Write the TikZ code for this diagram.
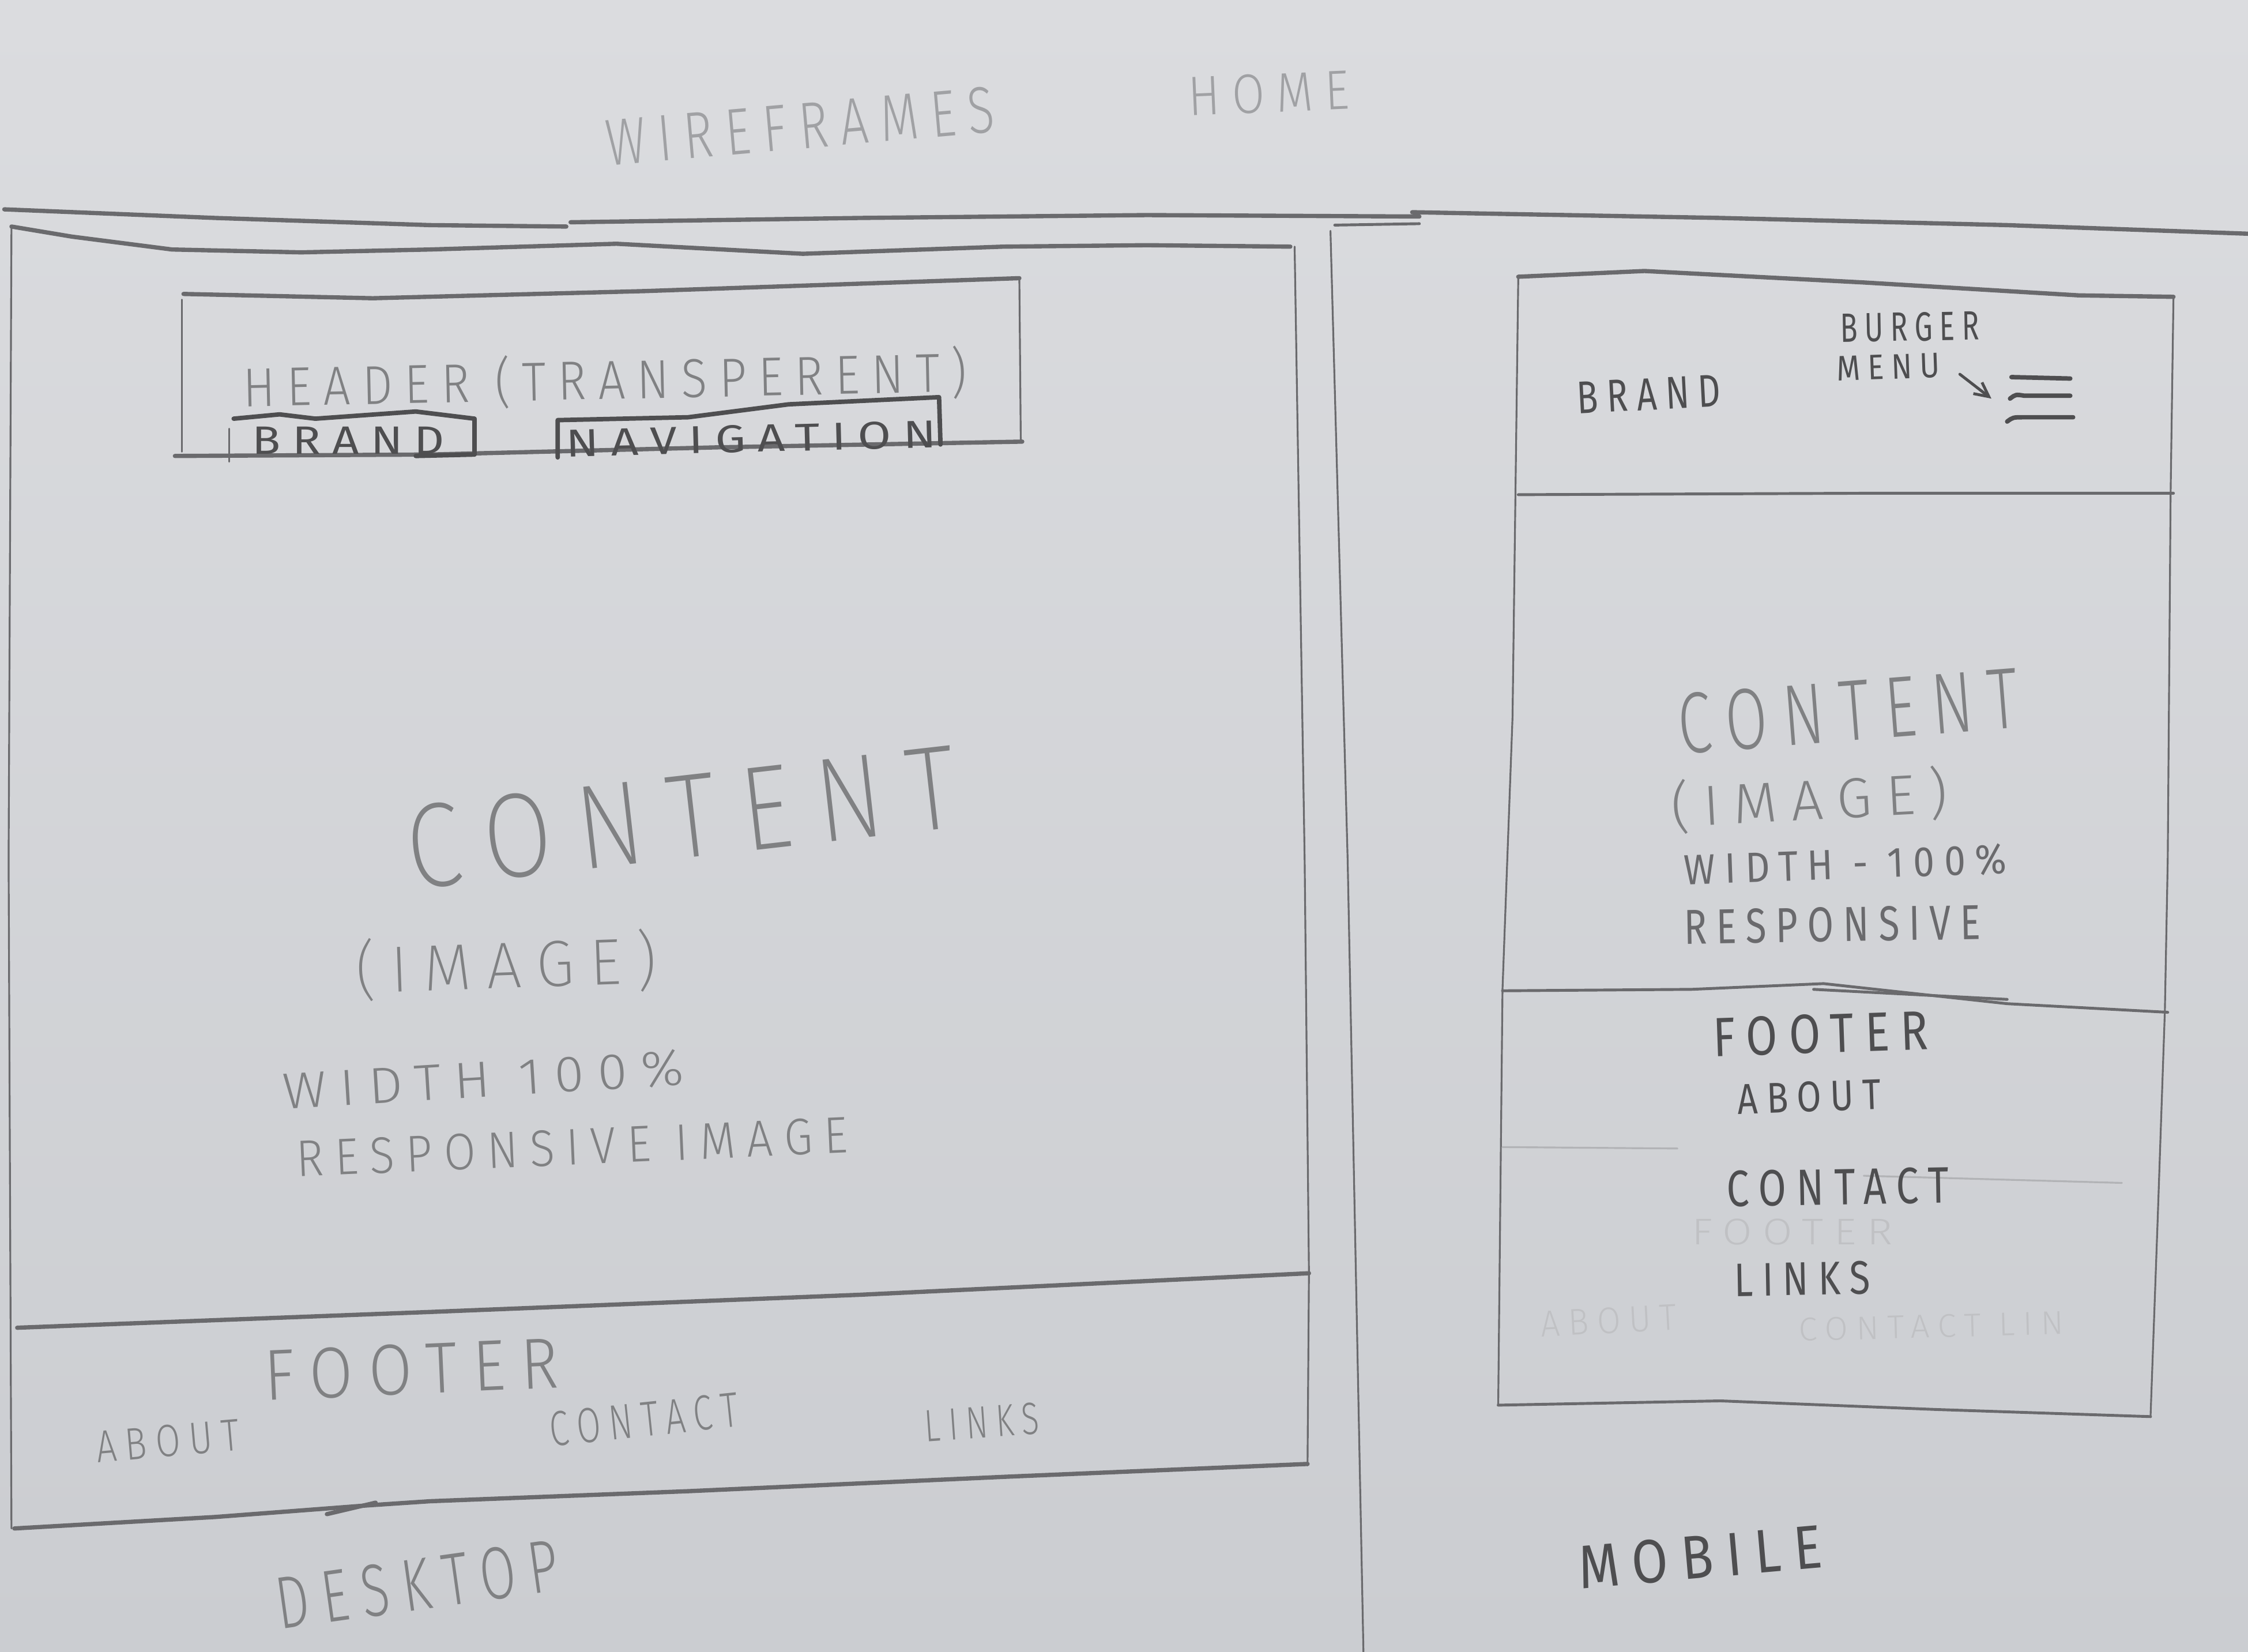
\documentclass[tikz,border=0pt]{standalone}
\usepackage{fontspec}
\usepackage{graphicx}
\usetikzlibrary{arrows.meta}
% hand-lettering faces
\newfontfamily\handrg{Fira Sans}[LetterSpace=25]
\newfontfamily\handlt{Fira Sans}[UprightFont=* Light,LetterSpace=25]
\newfontfamily\handxl{Fira Sans}[UprightFont=* ExtraLight,LetterSpace=25]
\newlength\upx
\setlength\upx{0.02487cm}
% text squeezed into a given width and cap height (in drawing units)
\newcommand\fit[4][\handrg]{\resizebox{#2\upx}{#3\upx}{#1#4}}
\definecolor{paperT}{RGB}{219,220,223}
\definecolor{paperB}{RGB}{203,205,209}
\definecolor{leaddk}{RGB}{78,78,80}
\definecolor{leadmd}{RGB}{106,106,109}
\definecolor{leadlt}{RGB}{128,129,131}
\definecolor{leadfaint}{RGB}{160,161,164}
\definecolor{ghost}{RGB}{192,193,196}
\tikzset{
  txt/.style={inner sep=0pt,outer sep=0pt,anchor=center},
  heavy/.style={draw=leadmd,line width=2.1pt,line cap=round,line join=round},
  medium/.style={draw=leadmd,line width=1.4pt,line cap=round,line join=round},
  fine/.style={draw=leadmd,line width=0.9pt,line cap=round,line join=round},
  dark/.style={draw=leaddk,line width=2.2pt,line cap=round,line join=round},
  faintline/.style={draw=leadfaint!70!paperT,line width=0.9pt,line cap=round},
}
\begin{document}
\begin{tikzpicture}[x=0.02487cm,y=-0.02487cm]
% sheet of paper
\path[use as bounding box,top color=paperT,bottom color=paperB] (0,0) rectangle (1568,1152);

% ---------- headings ----------
\node[txt,text=leadfaint,rotate=5] (tWire) at (558,88) {\fit[\handlt]{272}{32}{WIREFRAMES}};
\node[txt,text=leadfaint,rotate=2.5] (tHome) at (885,65) {\fit[\handlt]{112}{27}{HOME}};

% ---------- page frame lines ----------
\draw[heavy] (3,146) -- (150,152) -- (300,157) -- (395,158);
\draw[heavy] (398,155) -- (600,152) -- (800,150) -- (990,151);
\draw[heavy] (985,148) -- (1200,152) -- (1400,157) -- (1568,163);
\draw[medium] (931,157) -- (990,156);
\draw[fine] (928,161) -- (940,600) -- (951,1152);

% ---------- desktop frame ----------
\draw[heavy] (8,158) -- (50,165) -- (120,174) -- (210,176) -- (300,174) -- (430,170) -- (560,177) -- (700,172) -- (800,171) -- (900,172);
\draw[fine] (8,158) -- (6,600) -- (8,1066);
\draw[fine] (903,172) -- (910,600) -- (913,888) -- (912,1022);
\draw[heavy] (12,926) -- (300,915) -- (600,903) -- (913,888);
\draw[heavy] (912,1021) -- (700,1030) -- (480,1040) -- (300,1047) -- (255,1050) -- (150,1058) -- (10,1066);
\draw[heavy] (228,1056) -- (262,1048);

% desktop header box
\draw[heavy] (128,205) -- (260,208) -- (450,203) -- (711,194);
\draw[fine] (127,209) -- (127,315);
\draw[fine] (711,194) -- (712,308);
\draw[heavy] (122,318) -- (300,317) -- (500,312) -- (713,308);
\node[txt,text=leadlt,rotate=1.2] (dHeader) at (422,265) {\fit[\handlt]{505}{32}{HEADER (TRANSPERENT)}};

% brand box
\draw[dark] (163,292) -- (195,289) -- (220,292) -- (290,287) -- (331,292) -- (331,317) -- (290,318);
\draw[fine] (160,299) -- (160,322);
\node[txt,text=leaddk] (dBrand) at (243,307) {\fit{134}{19}{BRAND}};

% navigation box
\draw[dark] (389,319) -- (389,293) -- (480,291) -- (550,282) -- (655,277) -- (656,310);
\node[txt,text=leaddk,rotate=1.5] (dNav) at (524,306) {\fit{258}{19}{NAVIGATION}};

% desktop content
\node[txt,text=leadlt,rotate=6.5] (dContent) at (475,570) {\fit[\handxl]{385}{58}{CONTENT}};
\node[txt,text=leadlt,rotate=2] (dImage) at (353,673) {\fit[\handxl]{210}{38}{(IMAGE)}};
\node[txt,text=leadlt,rotate=3.5] (dWidth) at (337,753) {\fit[\handlt]{280}{25}{WIDTH 100\%}};
\node[txt,text=leadlt,rotate=2.5] (dResp) at (399,800) {\fit[\handlt]{385}{25}{RESPONSIVE IMAGE}};

% desktop footer
\node[txt,text=leadlt,rotate=2.5] (dFooter) at (287,955) {\fit[\handlt]{205}{35}{FOOTER}};
\node[txt,text=leadlt,rotate=5] (dAbout) at (117,1005) {\fit[\handlt]{100}{22}{ABOUT}};
\node[txt,text=leadlt,rotate=6] (dContact) at (449,990) {\fit[\handlt]{132}{24}{CONTACT}};
\node[txt,text=leadlt,rotate=4] (dLinks) at (685,992) {\fit[\handlt]{80}{22}{LINKS}};
\node[txt,text=leadlt,rotate=8] (dLabel) at (291,1105) {\fit[\handlt]{198}{36}{DESKTOP}};

% ---------- mobile frame ----------
\draw[heavy] (1059,193) -- (1147,189) -- (1300,197) -- (1450,206) -- (1516,207);
\draw[fine] (1059,193) -- (1055,500) -- (1048,690) -- (1045,980);
\draw[fine] (1516,207) -- (1514,345) -- (1512,600) -- (1510,705) -- (1505,850) -- (1500,988);
\draw[medium] (1059,345) -- (1300,344) -- (1516,344);
\draw[medium] (1048,691) -- (1180,690) -- (1272,686) -- (1400,700) -- (1512,706);
\draw[medium] (1265,690) -- (1400,697);
\draw[faintline] (1048,800) -- (1170,801);
\draw[faintline] (1300,820) -- (1480,825);
\draw[medium] (1045,980) -- (1200,977) -- (1350,983) -- (1500,988);

% mobile header
\node[txt,text=leaddk,rotate=3] (mBrand) at (1150,275) {\fit{100}{22}{BRAND}};
\node[txt,text=leaddk,rotate=1] (mBurger) at (1332,228) {\fit{97}{20}{BURGER}};
\node[txt,text=leaddk,rotate=2] (mMenu) at (1317,256) {\fit{72}{17}{MENU}};
\coordinate (arrS) at (1367,261);
\coordinate (arrE) at (1389,278);
\draw[dark,line width=1.4pt,-{Straight Barb[length=7pt,width=7pt]}] (arrS) -- (arrE);
\coordinate (bA1) at (1403,263); \coordinate (bA2) at (1444,264);
\coordinate (bB1) at (1402,278); \coordinate (bB2) at (1444,276);
\coordinate (bC1) at (1400,294); \coordinate (bC2) at (1446,291);
\draw[dark] (bA1) -- (bA2);
\draw[dark] (bB1) .. controls (1406,275) .. (1412,276) -- (bB2);
\draw[dark] (bC1) .. controls (1404,291) .. (1412,291) -- (bC2);

% mobile content
\node[txt,text=leadlt,rotate=4.5] (mContent) at (1289,496) {\fit[\handlt]{238}{42}{CONTENT}};
\node[txt,text=leadlt,rotate=3] (mImage) at (1262,558) {\fit[\handlt]{193}{33}{(IMAGE)}};
\node[txt,text=leadmd,rotate=2] (mWidth) at (1287,603) {\fit{225}{21}{WIDTH - 100\%}};
\node[txt,text=leadmd,rotate=1] (mResp) at (1278,645) {\fit{207}{24}{RESPONSIVE}};

% erased earlier lettering, still faintly visible
\node[txt,text=ghost] (gFooter) at (1250,859) {\fit[\handlt]{140}{18}{FOOTER}};
\node[txt,text=ghost,rotate=3] (gAbout) at (1122,921) {\fit[\handlt]{95}{18}{ABOUT}};
\node[txt,text=ghost,rotate=1.5] (gContact) at (1347,925) {\fit[\handlt]{185}{16}{CONTACT LIN}};

% mobile footer
\node[txt,text=leaddk,rotate=2] (mFooter) at (1270,721) {\fit{150}{27}{FOOTER}};
\node[txt,text=leaddk,rotate=2] (mAbout) at (1262,765) {\fit{100}{21}{ABOUT}};
\node[txt,text=leaddk,rotate=1] (mContact) at (1282,828) {\fit{155}{25}{CONTACT}};
\node[txt,text=leaddk,rotate=1] (mLinks) at (1257,892) {\fit{95}{23}{LINKS}};
\node[txt,text=leaddk,rotate=5] (mLabel) at (1186,1086) {\fit{170}{30}{MOBILE}};
\end{tikzpicture}
\end{document}
